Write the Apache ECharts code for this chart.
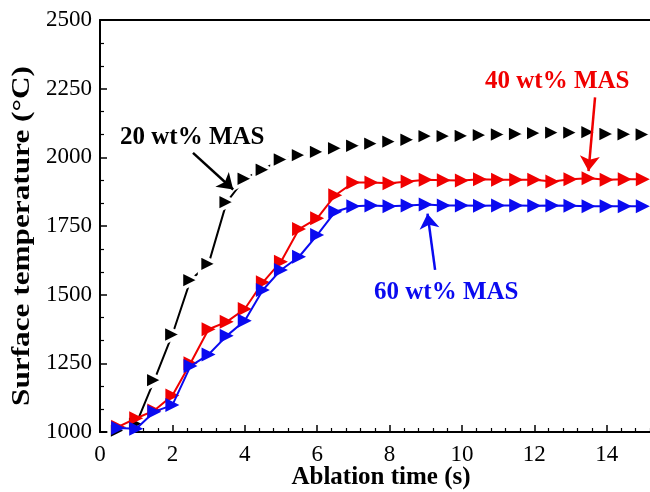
<!DOCTYPE html>
<html>
<head>
<meta charset="utf-8">
<script src="https://cdn.jsdelivr.net/npm/echarts@6/dist/echarts.min.js"></script>
<style>
  html, body { margin: 0; padding: 0; background: #fff; }
  #chart { width: 650px; height: 492px; }
</style>
</head>
<body>
<div id="chart"></div>
<script>
// Ablation time (s), sampled every 0.5 s
const times = [0.5, 1, 1.5, 2, 2.5, 3, 3.5, 4, 4.5, 5, 5.5, 6, 6.5, 7, 7.5,
               8, 8.5, 9, 9.5, 10, 10.5, 11, 11.5, 12, 12.5, 13, 13.5, 14, 14.5, 15];

// Surface temperature (°C) for each MAS content
const mas20 = [1005, 1030, 1189, 1355, 1553, 1612, 1837, 1922, 1955, 1992, 2008, 2020, 2033, 2042, 2050,
               2057, 2064, 2077, 2077, 2078, 2081, 2083, 2085, 2088, 2090, 2090, 2092, 2085, 2084, 2083];
const mas40 = [1019, 1050, 1078, 1133, 1250, 1374, 1401, 1448, 1545, 1620, 1739, 1778, 1862, 1908, 1908,
               1906, 1912, 1918, 1917, 1916, 1920, 1918, 1918, 1918, 1912, 1920, 1924, 1918, 1920, 1920];
const mas60 = [1015, 1012, 1074, 1098, 1240, 1282, 1350, 1405, 1517, 1590, 1638, 1717, 1802, 1822, 1825,
               1822, 1825, 1828, 1825, 1825, 1824, 1825, 1825, 1824, 1825, 1824, 1822, 1822, 1822, 1822];

const seriesNames = ['20 wt% MAS', '40 wt% MAS', '60 wt% MAS'];
const yTicks = [1000, 1250, 1500, 1750, 2000, 2250, 2500];
const xTicks = [0, 2, 4, 6, 8, 10, 12, 14];
const xTitle = 'Ablation time (s)';
const yTitle = 'Surface temperature (°C)';

// Callout arrows, in data units: [tail, head]
const arrow20 = [[2.57, 2016], [3.68, 1883]];
const arrow40 = [[13.68, 2218], [13.5, 1950]];
const arrow60 = [[9.26, 1590], [9.05, 1795]];

const FONT = '"Liberation Serif", "Times New Roman", serif';
const BLACK = '#000000';
const RED = '#f00000';
const BLUE = '#0a0af0';

const pairs = vals => times.map((t, i) => [t, vals[i]]);

function arrowMark(a, color) {
  return {
    silent: true,
    symbol: ['none', 'arrow'],
    symbolSize: 15,
    label: { show: false },
    lineStyle: { color: color, width: 2.5, type: 'solid' },
    emphasis: { disabled: true },
    data: [[{ coord: a[0] }, { coord: a[1] }]]
  };
}

function markerSeries(name, vals, color, z, size, extraItem) {
  return {
    name: name,
    type: 'line',
    data: pairs(vals),
    z: z,
    symbol: 'triangle',
    symbolRotate: -90,
    symbolSize: size,
    showAllSymbol: true,
    lineStyle: { color: color, width: 2 },
    itemStyle: Object.assign({ color: color }, extraItem || {})
  };
}

const chart = echarts.init(document.getElementById('chart'), null, { renderer: 'canvas' });

const s20 = markerSeries(seriesNames[0], mas20, BLACK, 2, 18, { borderColor: '#ffffff', borderWidth: 3.5 });
s20.markLine = arrowMark(arrow20, BLACK);
const s40 = markerSeries(seriesNames[1], mas40, RED, 3, 14);
s40.markLine = arrowMark(arrow40, RED);
const s60 = markerSeries(seriesNames[2], mas60, BLUE, 4, 14);
s60.markLine = arrowMark(arrow60, BLUE);

chart.setOption({
  animation: false,
  backgroundColor: '#ffffff',
  grid: { left: 100, right: -29, top: 20, bottom: 60, containLabel: false, outerBoundsMode: 'none' },
  xAxis: [{
    type: 'value',
    min: 0, max: 16, interval: 2,
    axisLine: { lineStyle: { color: BLACK, width: 2 } },
    axisTick: { inside: true, length: 7, lineStyle: { color: BLACK, width: 1.5 } },
    minorTick: { show: true, splitNumber: 5, length: 4, lineStyle: { color: BLACK, width: 1.2 } },
    splitLine: { show: false },
    axisLabel: {
      fontFamily: FONT, fontSize: 23, color: BLACK, margin: 11,
      formatter: v => (xTicks.indexOf(v) >= 0 ? String(v) : '')
    }
  }, {
    type: 'value', position: 'top',
    min: 0, max: 16,
    axisLine: { show: true, onZero: false, lineStyle: { color: BLACK, width: 2 } },
    axisTick: { show: false }, axisLabel: { show: false }, splitLine: { show: false }
  }],
  yAxis: {
    type: 'value',
    min: 1000, max: 2500, interval: 250,
    axisLine: { show: true, lineStyle: { color: BLACK, width: 2 } },
    axisTick: { inside: true, length: 7, lineStyle: { color: BLACK, width: 1.5 } },
    minorTick: { show: true, splitNumber: 3, length: 4, lineStyle: { color: BLACK, width: 1.2 } },
    splitLine: { show: false },
    axisLabel: {
      fontFamily: FONT, fontSize: 23, color: BLACK, margin: 8,
      formatter: v => (yTicks.indexOf(v) >= 0 ? String(v) : '')
    }
  },
  series: [s20, s40, s60],
  graphic: [
    // axis titles
    { type: 'text', x: 381, y: 478,
      style: { text: xTitle, fill: BLACK, font: 'bold 25px ' + FONT, align: 'center', verticalAlign: 'middle' } },
    { type: 'text', x: 23, y: 236, rotation: Math.PI / 2, scaleX: 1.25,
      style: { text: yTitle, fill: BLACK, font: 'bold 25px ' + FONT, align: 'center', verticalAlign: 'middle' } },
    // series callouts
    { type: 'text', left: 120, top: 125,
      style: { text: seriesNames[0], fill: BLACK, font: 'bold 25px ' + FONT } },
    { type: 'text', left: 485, top: 69,
      style: { text: seriesNames[1], fill: RED, font: 'bold 25px ' + FONT } },
    { type: 'text', left: 374, top: 280,
      style: { text: seriesNames[2], fill: BLUE, font: 'bold 25px ' + FONT } }
  ]
});
</script>
</body>
</html>
